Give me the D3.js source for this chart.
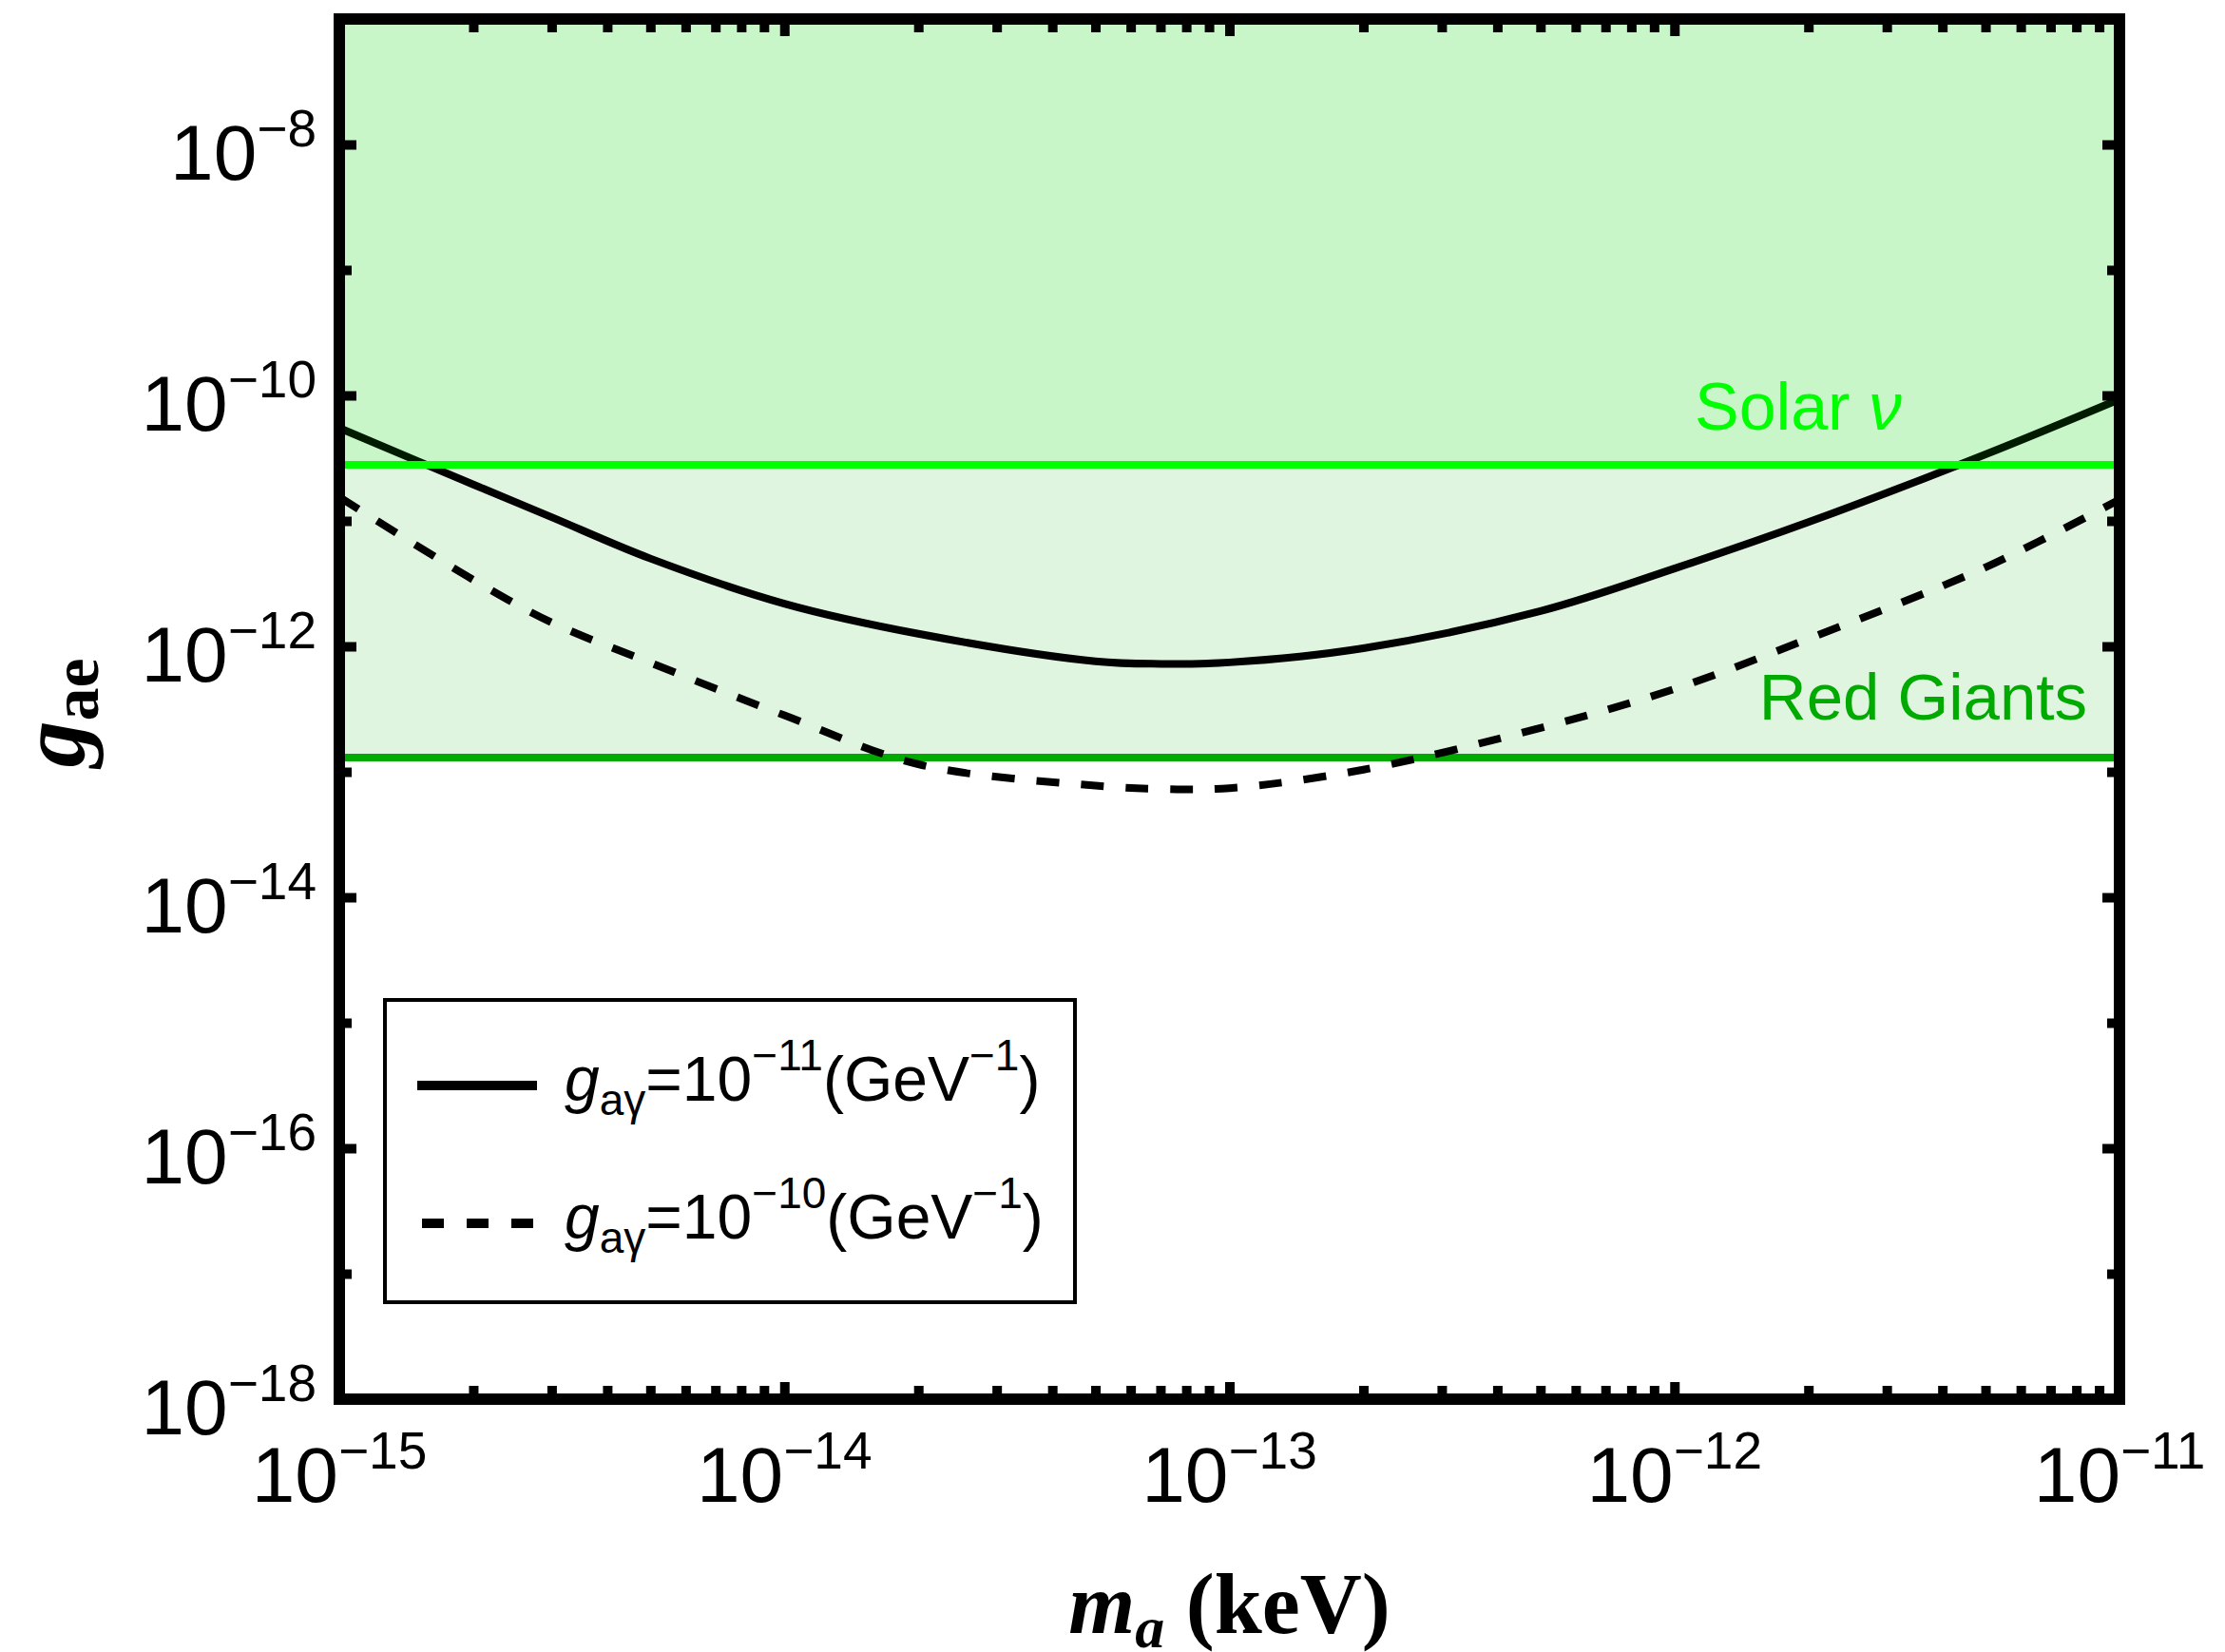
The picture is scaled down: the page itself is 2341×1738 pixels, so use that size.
<!DOCTYPE html>
<html>
<head>
<meta charset="utf-8">
<script src="https://cdn.jsdelivr.net/npm/d3@7"></script>
<style>
body { margin: 0; background: #fff; }
text { font-family: "Liberation Sans", Arial, sans-serif; }
.serif { font-family: "Liberation Serif", "Times New Roman", serif; }
</style>
</head>
<body>
<div id="chart"></div>
<script>
// axion mass (keV)
var massKeV = [1e-15, 2e-15, 3e-15, 5e-15, 1e-14, 2e-14, 5e-14, 7e-14, 1e-13, 2e-13, 5e-13, 1e-12, 2e-12, 5e-12, 1e-11];
// g_ae for g_agamma = 1e-11 GeV^-1 (solid)
var gaeSolid = [5.50e-11, 1.95e-11, 1.07e-11, 5.01e-12, 2.19e-12, 1.26e-12, 7.6e-13, 7.25e-13, 7.45e-13, 9.66e-13, 1.91e-12, 4.17e-12, 9.77e-12, 3.39e-11, 9.33e-11];
// g_ae for g_agamma = 1e-10 GeV^-1 (dashed)
var gaeDashed = [1.55e-11, 3.39e-12, 1.55e-12, 7.41e-13, 2.82e-13, 1.15e-13, 7.76e-14, 7.3e-14, 7.41e-14, 1.04e-13, 2.24e-13, 4.57e-13, 1.15e-12, 4.27e-12, 1.48e-11];
var legendExp = ["11", "10"];
// bounds
var solarBound = 2.8e-11;
var redGiantBound = 1.3e-13;
// tick labels (exponents)
var xTickExp = [-15, -14, -13, -12, -11];
var yTickExp = [-18, -16, -14, -12, -10, -8];

var w = 2341, h = 1738;
var pL = 357, pR = 2230, pT = 20, pB = 1472;

var x = d3.scaleLog().domain([1e-15, 1e-11]).range([pL, pR]);
var y = d3.scaleLog().domain([1e-18, 1e-7]).range([pB, pT]);

var svg = d3.select("#chart").append("svg")
  .attr("width", w).attr("height", h);

//Red giant region (below solar fill)
svg.append("rect")
  .attr("x", pL).attr("y", pT)
  .attr("width", pR - pL).attr("height", y(redGiantBound) - pT)
  .attr("fill", "#00aa00").attr("fill-opacity", 0.122);
svg.append("line")
  .attr("x1", pL).attr("x2", pR)
  .attr("y1", y(redGiantBound)).attr("y2", y(redGiantBound))
  .attr("stroke", "#00aa00").attr("stroke-width", 8);

//curves
var line = d3.line()
  .x(function(d) { return x(d[0]); })
  .y(function(d) { return y(d[1]); })
  .curve(d3.curveCatmullRom.alpha(0.5));

svg.append("path")
  .attr("d", line(d3.zip(massKeV, gaeSolid)))
  .attr("fill", "none").attr("stroke", "#000").attr("stroke-width", 8);
svg.append("path")
  .attr("d", line(d3.zip(massKeV, gaeDashed)))
  .attr("fill", "none").attr("stroke", "#000").attr("stroke-width", 8)
  .attr("stroke-dasharray", "24,23");

//Solar region
svg.append("rect")
  .attr("x", pL).attr("y", pT)
  .attr("width", pR - pL).attr("height", y(solarBound) - pT)
  .attr("fill", "#00ff00").attr("fill-opacity", 0.107);
svg.append("line")
  .attr("x1", pL).attr("x2", pR)
  .attr("y1", y(solarBound)).attr("y2", y(solarBound))
  .attr("stroke", "#00ff00").attr("stroke-width", 8);

//region labels
var sol = svg.append("text")
  .attr("x", 1783).attr("y", 452)
  .attr("font-size", 70).attr("fill", "#00ff00");
sol.append("tspan").text("Solar ");
sol.append("tspan").attr("font-style", "italic").text("\u03bd");

svg.append("text")
  .attr("x", 2196).attr("y", 757)
  .attr("text-anchor", "end")
  .attr("font-size", 69).attr("fill", "#00aa00")
  .text("Red Giants");

//ticks (all inward)
var xMajor = xTickExp.map(function(e) { return Math.pow(10, e); });
var xMinor = x.ticks().filter(function(t) {
  var k = Math.round(t / Math.pow(10, Math.floor(Math.log10(t) + 1e-9)));
  return k !== 1;
});
var yAll = y.ticks();
var yMajor = yAll.filter(function(t) { return Math.round(Math.log10(t)) % 2 === 0; });
var yMinor = yAll.filter(function(t) { return Math.round(Math.log10(t)) % 2 !== 0; });

function tickAxis(axis, tr) {
  var g = svg.append("g").attr("transform", tr).call(axis.tickFormat(""));
  g.select(".domain").remove();
  g.selectAll(".tick line").attr("stroke", "#000").attr("stroke-width", 10);
}
tickAxis(d3.axisBottom(x).tickValues(xMajor).tickSize(-18), "translate(0," + pB + ")");
tickAxis(d3.axisBottom(x).tickValues(xMinor).tickSize(-14), "translate(0," + pB + ")");
tickAxis(d3.axisTop(x).tickValues(xMajor).tickSize(-18), "translate(0," + pT + ")");
tickAxis(d3.axisTop(x).tickValues(xMinor).tickSize(-14), "translate(0," + pT + ")");
tickAxis(d3.axisLeft(y).tickValues(yMajor).tickSize(-18), "translate(" + pL + ",0)");
tickAxis(d3.axisLeft(y).tickValues(yMinor).tickSize(-13), "translate(" + pL + ",0)");
tickAxis(d3.axisRight(y).tickValues(yMajor).tickSize(-18), "translate(" + pR + ",0)");
tickAxis(d3.axisRight(y).tickValues(yMinor).tickSize(-13), "translate(" + pR + ",0)");

//frame
svg.append("rect")
  .attr("x", pL).attr("y", pT)
  .attr("width", pR - pL).attr("height", pB - pT)
  .attr("fill", "none").attr("stroke", "#000").attr("stroke-width", 12);

//tick labels
function powLabel(t, e) {
  t.append("tspan").text("10");
  t.append("tspan").attr("font-size", 55).attr("dy", -35)
    .text("\u2212" + Math.abs(e));
}
svg.selectAll("text.xlab")
  .data(xTickExp).enter().append("text")
  .attr("class", "xlab")
  .attr("x", function(e) { return x(Math.pow(10, e)); })
  .attr("y", 1580)
  .attr("text-anchor", "middle")
  .attr("font-size", 82)
  .each(function(e) { powLabel(d3.select(this), e); });

svg.selectAll("text.ylab")
  .data(yTickExp).enter().append("text")
  .attr("class", "ylab")
  .attr("x", 333)
  .attr("y", function(e) { return y(Math.pow(10, e)) + 37; })
  .attr("text-anchor", "end")
  .attr("font-size", 82)
  .each(function(e) { powLabel(d3.select(this), e); });

//axis titles
var xt = svg.append("text").attr("class", "serif")
  .attr("x", (pL + pR) / 2).attr("y", 1718)
  .attr("text-anchor", "middle")
  .attr("font-size", 90).attr("font-weight", "bold");
xt.append("tspan").attr("font-style", "italic").text("m");
xt.append("tspan").attr("font-style", "italic").attr("font-size", 62).attr("dy", 15).text("a");
xt.append("tspan").attr("dy", -15).text(" (keV)");

var yt = svg.append("text").attr("class", "serif")
  .attr("transform", "translate(88," + ((pT + pB) / 2 + 4) + ") rotate(-90)")
  .attr("text-anchor", "middle")
  .attr("font-size", 98).attr("font-weight", "bold");
yt.append("tspan").attr("font-style", "italic").text("g");
yt.append("tspan").attr("font-size", 70).attr("dy", 15).text("ae");

//legend
svg.append("rect")
  .attr("x", 405).attr("y", 1052)
  .attr("width", 726).attr("height", 318)
  .attr("fill", "#fff").attr("stroke", "#000").attr("stroke-width", 4);

var legY = [1142, 1287];
var dashes = [null, "23,24"];
legendExp.forEach(function(e, i) {
  svg.append("line")
    .attr("x1", i ? 444 : 439).attr("x2", i ? 561 : 565)
    .attr("y1", legY[i]).attr("y2", legY[i])
    .attr("stroke", "#000").attr("stroke-width", 10)
    .attr("stroke-dasharray", dashes[i]);
  var t = svg.append("text")
    .attr("x", 594).attr("y", legY[i] + 16)
    .attr("font-size", 66);
  t.append("tspan").attr("font-style", "italic").text("g");
  t.append("tspan").attr("font-size", 46).attr("dy", 15).text("a\u03b3");
  t.append("tspan").attr("dy", -15).text("=10");
  t.append("tspan").attr("font-size", 46).attr("dy", -32).text("\u2212" + e);
  t.append("tspan").attr("dy", 32).text("(GeV");
  t.append("tspan").attr("font-size", 46).attr("dy", -32).text("\u22121");
  t.append("tspan").attr("dy", 32).text(")");
});
</script>
</body>
</html>
